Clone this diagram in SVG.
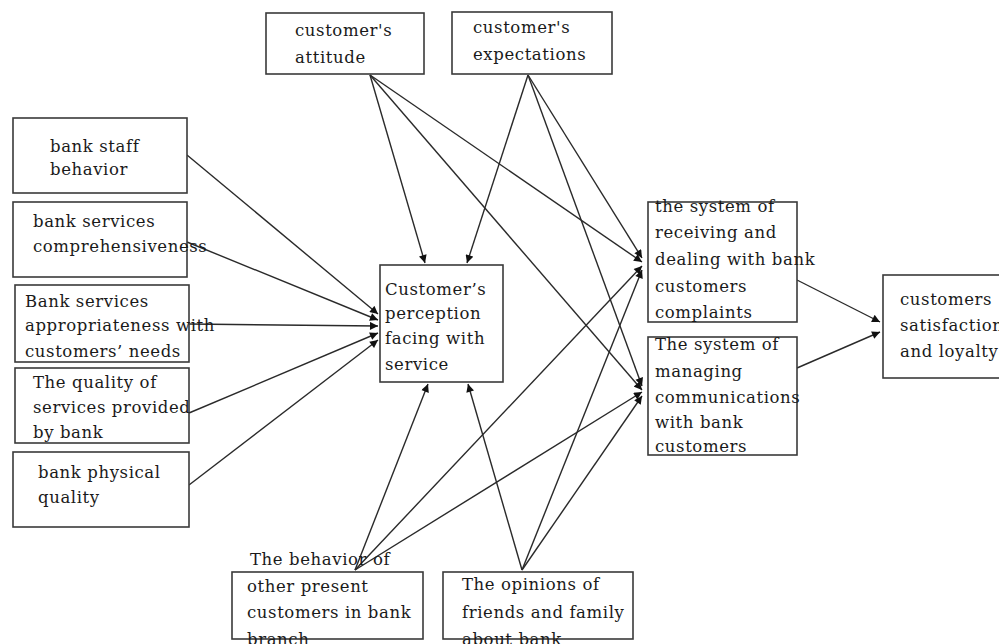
<svg xmlns="http://www.w3.org/2000/svg" width="999" height="644" viewBox="0 0 999 644">
<style>
.box{fill:#fff;stroke:#3a3a3a;stroke-width:1.6}
.t{font-family:"DejaVu Serif","Liberation Serif",serif;font-size:16.5px;letter-spacing:0.6px;fill:#1a1a1a}
.c line{stroke:#2a2a2a;stroke-width:1.4;marker-end:url(#ah)}
</style>
<defs>
<marker id="ah" viewBox="0 0 10 10" refX="10" refY="5" markerWidth="9" markerHeight="8" markerUnits="userSpaceOnUse" orient="auto">
<path d="M0,0 L10,5 L0,10 z" fill="#111"/>
</marker>
</defs>
<rect width="999" height="644" fill="#fff"/>
<g class="c" id="connectors">
<line x1="187" y1="155" x2="378" y2="314"/>
<line x1="187" y1="242" x2="378" y2="320"/>
<line x1="189" y1="324" x2="378" y2="326"/>
<line x1="189" y1="413" x2="378" y2="333"/>
<line x1="189" y1="485" x2="378" y2="340"/>
<line x1="370" y1="75" x2="425" y2="263"/>
<line x1="370" y1="75" x2="642" y2="262"/>
<line x1="370" y1="75" x2="642" y2="390"/>
<line x1="528" y1="75" x2="467" y2="263"/>
<line x1="528" y1="75" x2="642" y2="258"/>
<line x1="528" y1="75" x2="642" y2="386"/>
<line x1="355" y1="570" x2="428" y2="384"/>
<line x1="355" y1="570" x2="642" y2="266"/>
<line x1="355" y1="570" x2="642" y2="392"/>
<line x1="522" y1="570" x2="468" y2="384"/>
<line x1="522" y1="570" x2="642" y2="270"/>
<line x1="522" y1="570" x2="642" y2="396"/>
<line x1="797" y1="280" x2="880" y2="322"/>
<line x1="797" y1="368" x2="880" y2="332"/>
</g>
<g id="attitude"><rect class="box" x="266" y="13" width="158" height="61"/>
<text class="t" x="295" y="36">customer's</text><text class="t" x="295" y="63">attitude</text></g>
<g id="expectations"><rect class="box" x="452" y="12" width="160" height="62"/>
<text class="t" x="473" y="33">customer's</text><text class="t" x="473" y="60">expectations</text></g>
<g id="staff"><rect class="box" x="13" y="118" width="174" height="75"/>
<text class="t" x="50" y="152">bank staff</text><text class="t" x="50" y="175">behavior</text></g>
<g id="comprehensiveness"><rect class="box" x="13" y="202" width="174" height="75"/>
<text class="t" x="33" y="227">bank services</text><text class="t" x="33" y="252">comprehensiveness</text></g>
<g id="appropriateness"><rect class="box" x="15" y="285" width="174" height="77"/>
<text class="t" x="25" y="307">Bank services</text><text class="t" x="25" y="331">appropriateness with</text><text class="t" x="25" y="357">customers’ needs</text></g>
<g id="quality"><rect class="box" x="15" y="368" width="174" height="75"/>
<text class="t" x="33" y="388">The quality of</text><text class="t" x="33" y="413">services provided</text><text class="t" x="33" y="438">by bank</text></g>
<g id="physical"><rect class="box" x="13" y="452" width="176" height="75"/>
<text class="t" x="38" y="478">bank physical</text><text class="t" x="38" y="503">quality</text></g>
<g id="perception"><rect class="box" x="380" y="265" width="123" height="117"/>
<text class="t" x="385" y="295">Customer’s</text><text class="t" x="385" y="319">perception</text><text class="t" x="385" y="344">facing with</text><text class="t" x="385" y="370">service</text></g>
<g id="receiving"><rect class="box" x="648" y="202" width="149" height="120"/>
<text class="t" x="655" y="212">the system of</text><text class="t" x="655" y="238">receiving and</text><text class="t" x="655" y="265">dealing with bank</text><text class="t" x="655" y="292">customers</text><text class="t" x="655" y="318">complaints</text></g>
<g id="managing"><rect class="box" x="648" y="337" width="149" height="118"/>
<text class="t" x="655" y="350">The system of</text><text class="t" x="655" y="377">managing</text><text class="t" x="655" y="403">communications</text><text class="t" x="655" y="428">with bank</text><text class="t" x="655" y="452">customers</text></g>
<g id="satisfaction"><rect class="box" x="883" y="275" width="130" height="103"/>
<text class="t" x="900" y="305">customers</text><text class="t" x="900" y="331">satisfaction</text><text class="t" x="900" y="357">and loyalty</text></g>
<g id="behavior"><rect class="box" x="232" y="572" width="191" height="67"/>
<text class="t" x="250" y="565">The behavior of</text><text class="t" x="247" y="592">other present</text><text class="t" x="247" y="618">customers in bank</text><text class="t" x="247" y="645">branch</text></g>
<g id="opinions"><rect class="box" x="443" y="572" width="190" height="67"/>
<text class="t" x="462" y="590">The opinions of</text><text class="t" x="462" y="618">friends and family</text><text class="t" x="462" y="645">about bank</text></g>
</svg>
